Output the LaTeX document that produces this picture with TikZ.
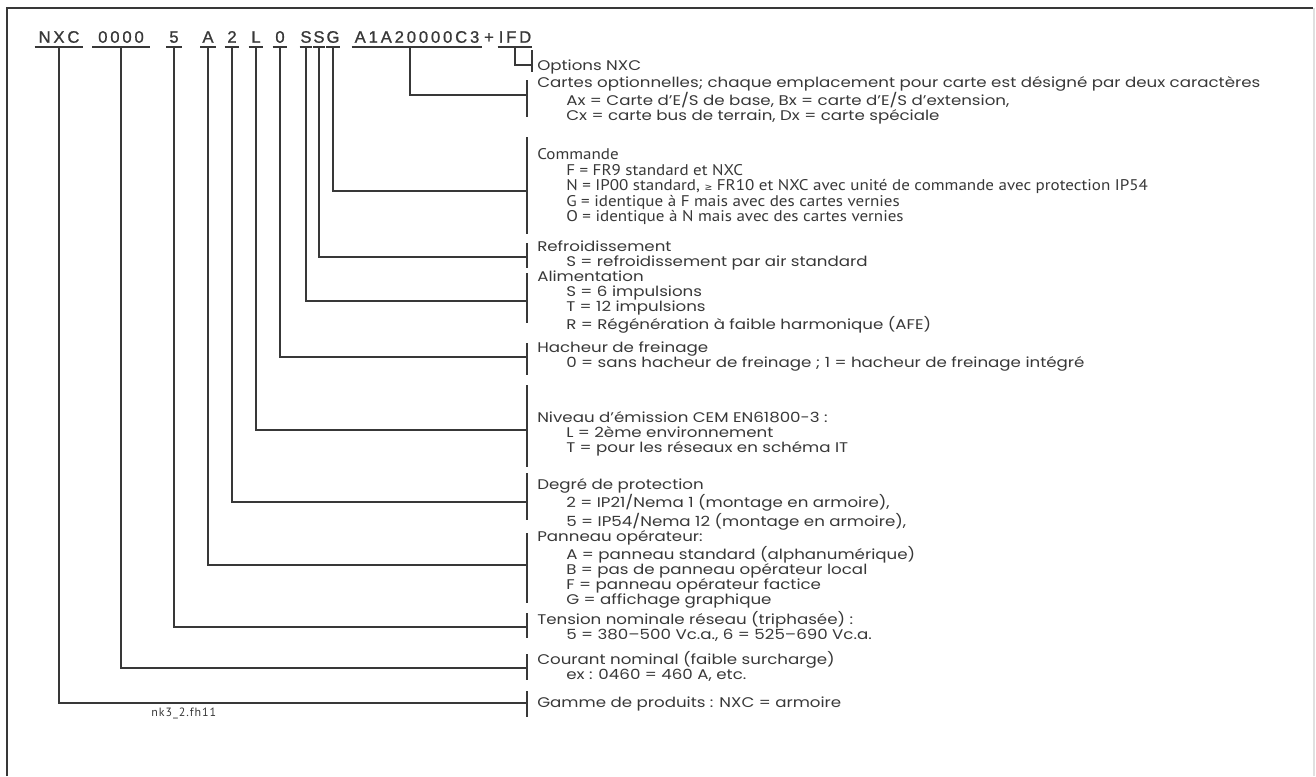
\documentclass[tikz,border=0pt]{standalone}
\usepackage{fontspec}
\setmainfont[FakeStretch=1.19]{Poppins}
\newfontfamily\condfont[FakeStretch=1.1]{PT Sans}
\newfontfamily\reffont[LetterSpace=8]{PT Sans}
\newfontfamily\symfont{DejaVu Sans}
\newfontfamily\codefont[LetterSpace=17,FakeBold=1]{Liberation Sans}
\usepackage{tikz}

\definecolor{ink}{HTML}{383838}
\newcommand{\ind}{\hspace*{21.75pt}}
\newcommand{\haut}{\rule{0pt}{10pt}}

\tikzset{
  code/.style={font=\codefont\fontsize{12.5}{13}\selectfont, text=ink, inner xsep=0pt,
    inner ysep=3pt, text depth=0pt, anchor=south},
  bloc/.style={font=\fontsize{10.5}{11.25}\selectfont, text=ink, align=left,
    inner sep=0pt, anchor=north west},
  lien/.style={draw=ink, line width=1.2pt},
}

\begin{document}
\begin{tikzpicture}[x=0.75pt, y=-0.75pt]
  \useasboundingbox (0,0) rectangle (1316,776);

  % Cadre
  \draw[ink, line width=1.5pt] (7,776) -- (7,8) -- (1313,8);
  \draw[black!12, line width=2pt] (1314,8) -- (1314,776);

  % Code
  \node[code, minimum width=36pt] (c-gamme) at (59,47) {NXC};
  \node[code, minimum width=42.75pt] (c-courant) at (121,47) {0000};
  \node[code, minimum width=11.25pt] (c-tension) at (174,47) {5};
  \node[code, minimum width=11.25pt] (c-panneau) at (208,47) {A};
  \node[code, minimum width=10.5pt] (c-degre) at (232,47) {2};
  \node[code, minimum width=10.5pt] (c-niveau) at (256,47) {L};
  \node[code, minimum width=10.5pt] (c-hacheur) at (280,47) {0};
  \node[code, minimum width=9pt] (c-alim) at (306,47) {S};
  \node[code, minimum width=8.25pt] (c-refroid) at (319,47) {S};
  \node[code, minimum width=9.75pt] (c-commande) at (333,47) {G};
  \node[code, minimum width=97.5pt] (c-cartes) at (417,47) {A1A20000C3};
  \node[code, inner ysep=0pt] (plus) at (489,43) {+};
  \node[code, minimum width=25.5pt] (c-options) at (515,47) {IFD};

  % Soulignements
  \foreach \n in {gamme,courant,tension,panneau,degre,niveau,hacheur,alim,refroid,commande,cartes,options}
    \draw[lien] (c-\n.south west) -- (c-\n.south east);

  % Points de jonction
  \coordinate (j-options) at (532,65);
  \coordinate (j-cartes) at (527,95);
  \coordinate (j-commande) at (527,191);
  \coordinate (j-refroid) at (527,257);
  \coordinate (j-alim) at (527,301);
  \coordinate (j-hacheur) at (527,357);
  \coordinate (j-niveau) at (527,430);
  \coordinate (j-degre) at (527,502);
  \coordinate (j-panneau) at (527,565);
  \coordinate (j-tension) at (527,627);
  \coordinate (j-courant) at (527,668);
  \coordinate (j-gamme) at (527,703);

  % Liens
  \draw[lien] (c-options.south) |- (j-options);
  \draw[lien] ([xshift=-5.25pt]c-cartes.south) |- (j-cartes);
  \draw[lien] (c-commande.south) |- (j-commande);
  \draw[lien] (c-refroid.south) |- (j-refroid);
  \draw[lien] (c-alim.south) |- (j-alim);
  \draw[lien] (c-hacheur.south) |- (j-hacheur);
  \draw[lien] (c-niveau.south) |- (j-niveau);
  \draw[lien] (c-degre.south) |- (j-degre);
  \draw[lien] (c-panneau.south) |- (j-panneau);
  \draw[lien] (c-tension.south) |- (j-tension);
  \draw[lien] (c-courant.south) |- (j-courant);
  \draw[lien] (c-gamme.south) |- (j-gamme);

  % Barres
  \draw[lien] (j-options) ++(0,-15) -- ++(0,22);
  \draw[lien] (j-cartes) ++(0,-15) -- ++(0,37);
  \draw[lien] (j-commande) ++(0,-54) -- ++(0,97);
  \draw[lien] (j-refroid) ++(0,-14) -- ++(0,25);
  \draw[lien] (j-alim) ++(0,-28) -- ++(0,50);
  \draw[lien] (j-hacheur) ++(0,-14) -- ++(0,32);
  \draw[lien] (j-niveau) ++(0,-45) -- ++(0,82);
  \draw[lien] (j-degre) ++(0,-29) -- ++(0,47);
  \draw[lien] (j-panneau) ++(0,-32) -- ++(0,70);
  \draw[lien] (j-tension) ++(0,-14) -- ++(0,25);
  \draw[lien] (j-courant) ++(0,-14) -- ++(0,26);
  \draw[lien] (j-gamme) ++(0,-12) -- ++(0,26);

  % Textes
  \node[bloc] (t-options) at (537,57) {\haut Options NXC};
  \node[bloc] (t-cartes) at (537,74) {\haut Cartes optionnelles; chaque emplacement pour carte est désigné par deux caractères\\
    \ind Ax = Carte d’E/S de base, Bx = carte d’E/S d’extension,\\
    \ind Cx = carte bus de terrain, Dx = carte spéciale};
  \node[bloc, font=\condfont\fontsize{11.6}{11.6}\selectfont] (t-commande) at (537,146) {\haut Commande\\
    \ind F = FR9 standard et NXC\\
    \ind N = IP00 standard, {\symfont\fontsize{7}{8}\selectfont ≥} FR10 et NXC avec unité de commande avec protection IP54\\
    \ind G = identique à F mais avec des cartes vernies\\
    \ind O = identique à N mais avec des cartes vernies};
  \node[bloc] (t-refroid) at (537,238) {\haut Refroidissement\\
    \ind S = refroidissement par air standard};
  \node[bloc] (t-alim) at (537,268) {\haut Alimentation\\
    \ind S = 6 impulsions\\
    \ind T = 12 impulsions\\
    \ind R = Régénération à faible harmonique (AFE)};
  \node[bloc] (t-hacheur) at (537,339) {\haut Hacheur de freinage\\
    \ind 0 = sans hacheur de freinage ; 1 = hacheur de freinage intégré};
  \node[bloc] (t-niveau) at (537,409) {\haut Niveau d'émission CEM EN61800-3 :\\
    \ind L = 2ème environnement\\
    \ind T = pour les réseaux en schéma IT};
  \node[bloc] (t-degre) at (537,476) {\haut Degré de protection\\
    \ind 2 = IP21/Nema 1 (montage en armoire),\\
    \ind 5 = IP54/Nema 12 (montage en armoire),};
  \node[bloc] (t-panneau) at (537,528) {\haut Panneau opérateur:\\
    \ind A = panneau standard (alphanumérique)\\
    \ind B = pas de panneau opérateur local\\
    \ind F = panneau opérateur factice\\
    \ind G = affichage graphique};
  \node[bloc] (t-tension) at (537,611) {\haut Tension nominale réseau (triphasée) :\\
    \ind 5 = 380–500 Vc.a., 6 = 525–690 Vc.a.};
  \node[bloc] (t-courant) at (537,651) {\haut Courant nominal (faible surcharge)\\
    \ind ex : 0460 = 460 A, etc.};
  \node[bloc] (t-gamme) at (537,694) {\haut Gamme de produits : NXC = armoire};

  % Reference
  \node[bloc, anchor=west, font=\reffont\fontsize{9}{10}\selectfont] (ref) at (151,713) {nk3\_2.fh11};
\end{tikzpicture}
\end{document}
